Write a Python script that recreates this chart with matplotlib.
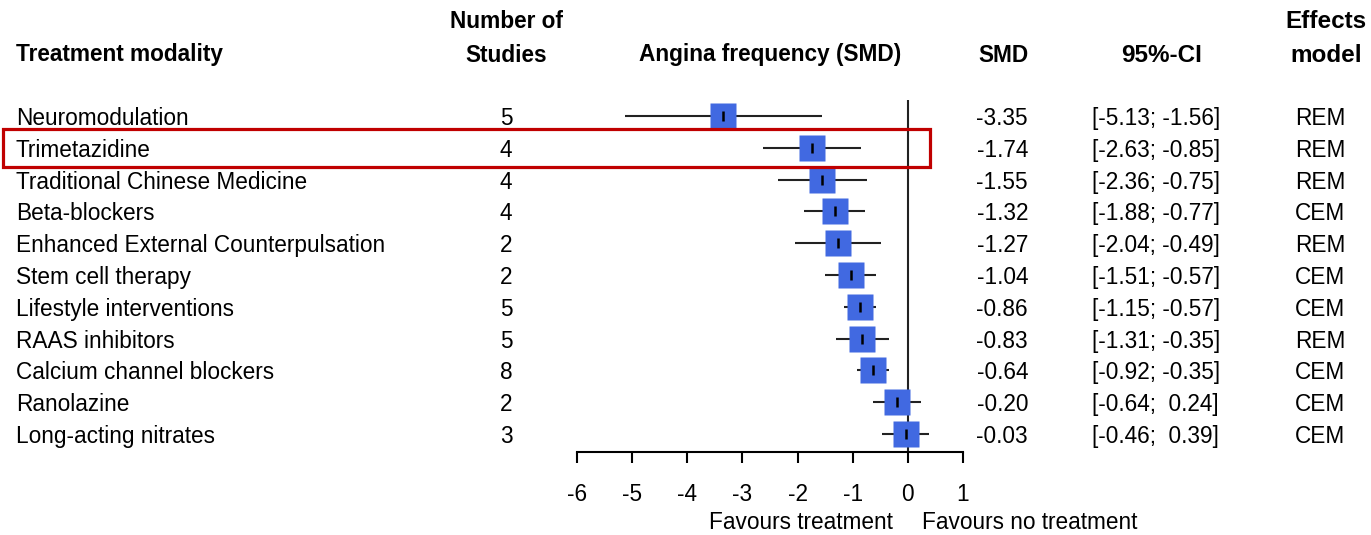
import numpy as np
import matplotlib.pyplot as plt
from matplotlib.patches import Rectangle
from matplotlib.transforms import blended_transform_factory

# data
treatments = ['Neuromodulation', 'Trimetazidine', 'Traditional Chinese Medicine',
              'Beta-blockers', 'Enhanced External Counterpulsation', 'Stem cell therapy',
              'Lifestyle interventions', 'RAAS inhibitors', 'Calcium channel blockers',
              'Ranolazine', 'Long-acting nitrates']
n_studies = [5, 4, 4, 4, 2, 2, 5, 5, 8, 2, 3]
smd = [-3.35, -1.74, -1.55, -1.32, -1.27, -1.04, -0.86, -0.83, -0.64, -0.20, -0.03]
ci_low = [-5.13, -2.63, -2.36, -1.88, -2.04, -1.51, -1.15, -1.31, -0.92, -0.64, -0.46]
ci_high = [-1.56, -0.85, -0.75, -0.77, -0.49, -0.57, -0.57, -0.35, -0.35, 0.24, 0.39]
effects_model = ['REM', 'REM', 'REM', 'CEM', 'REM', 'CEM', 'CEM', 'REM', 'CEM', 'CEM', 'CEM']
x_ticks = [-6, -5, -4, -3, -2, -1, 0, 1]
highlight = 'Trimetazidine'

plt.rcParams.update({'font.family': ['Liberation Sans', 'DejaVu Sans'],
                     'font.size': 16.3,
                     'axes.unicode_minus': False})

W, H = 1371, 535
fig = plt.figure(figsize=(W / 100, H / 100), dpi=100)

# forest panel placed in pixel terms
x0, x1 = 577, 963
y_top, y_bot = 100, 452
ax = fig.add_axes([x0 / W, 1 - y_bot / H, (x1 - x0) / W, (y_bot - y_top) / H])
row_gap = 31.8
first_row = 116
ax.set_ylim((y_bot - first_row) / row_gap, (y_top - first_row) / row_gap)
ax.set_xlim(-6, 1)

rows = np.arange(len(treatments))
ax.hlines(rows, ci_low, ci_high, color='#222222', lw=1.5, zorder=2)
ax.plot(smd, rows, 's', ms=18.5, color='#4169E1', mec='none', zorder=3)
ax.plot(smd, rows, '|', ms=7, mew=1.8, color='black', zorder=4)
ax.axvline(0, color='#222222', lw=1.5, zorder=1)

for s in ['top', 'right', 'left']:
    ax.spines[s].set_visible(False)
ax.spines['bottom'].set_linewidth(1.5)
ax.set_yticks([])
ax.set_xticks(x_ticks)
ax.tick_params(axis='x', length=8, width=1.5, pad=14, labelsize=16.3)

ax.text(-0.27, 0.024, 'Favours treatment', ha='right', va='center',
        transform=blended_transform_factory(ax.transData, fig.transFigure))
ax.text(0.25, 0.024, 'Favours no treatment', ha='left', va='center',
        transform=blended_transform_factory(ax.transData, fig.transFigure))

# table columns
tr = blended_transform_factory(fig.transFigure, ax.transData)
dy = 0.08  # nudge text down to sit on the row centre
for i in rows:
    ax.text(16 / W, i + dy, treatments[i], ha='left', va='center', transform=tr)
    ax.text(506 / W, i + dy, str(n_studies[i]), ha='center', va='center', transform=tr)
    ax.text(1028 / W, i + dy, '%.2f' % smd[i], ha='right', va='center', transform=tr)
    lo = '%.2f' % ci_low[i]
    hi = '%.2f' % ci_high[i]
    if ci_high[i] >= 0:
        hi = ' ' + hi
    ax.text(1092 / W, i + dy, '[%s; %s]' % (lo, hi), ha='left', va='center', transform=tr)
    ax.text(1320 / W, i + dy, effects_model[i], ha='center', va='center', transform=tr)

# headers
fig.text(16 / W, 1 - 55 / H, 'Treatment modality', ha='left', va='center', fontweight='bold')
fig.text(506 / W, 1 - 22 / H, 'Number of', ha='center', va='center', fontweight='bold')
fig.text(506 / W, 1 - 55 / H, 'Studies', ha='center', va='center', fontweight='bold')
fig.text(770 / W, 1 - 55 / H, 'Angina frequency (SMD)', ha='center', va='center', fontweight='bold')
fig.text(1003 / W, 1 - 55 / H, 'SMD', ha='center', va='center', fontweight='bold')
fig.text(1162 / W, 1 - 55 / H, '95%-CI', ha='center', va='center', fontweight='bold', fontsize=17.5)
fig.text(1326 / W, 1 - 22 / H, 'Effects', ha='center', va='center', fontweight='bold', fontsize=17.5)
fig.text(1326 / W, 1 - 55 / H, 'model', ha='center', va='center', fontweight='bold', fontsize=17.5)

# red box around the highlighted row
k = treatments.index(highlight)
box = Rectangle((3 / W, k - 0.6), (930 - 3) / W, 1.2, transform=tr, fill=False,
                edgecolor='#C00000', lw=2.3, clip_on=False, zorder=5)
ax.add_patch(box)

fig.savefig('out.png', dpi=100)
